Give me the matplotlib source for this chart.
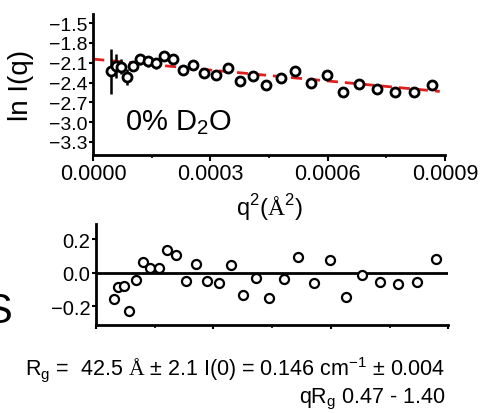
import matplotlib
matplotlib.use('Agg')
import matplotlib.pyplot as plt
from matplotlib.ticker import MultipleLocator

plt.rcParams['font.family'] = ['Liberation Sans', 'DejaVu Sans']
plt.rcParams['mathtext.fontset'] = 'custom'
plt.rcParams['mathtext.rm'] = 'Liberation Serif'

# Guinier data
q2 = [0.0000452, 0.0000572, 0.0000708, 0.0000853, 0.0001024, 0.0001194, 0.0001390,
      0.0001595, 0.0001808, 0.0002039, 0.0002295, 0.0002560, 0.0002841, 0.0003131,
      0.0003438, 0.0003754, 0.0004095, 0.0004419, 0.0004794, 0.0005161, 0.0005562,
      0.0005971, 0.0006381, 0.0006808, 0.0007252, 0.0007721, 0.0008207, 0.0008684]
ln_i = [-2.23, -2.15, -2.16, -2.32, -2.15, -2.05, -2.08, -2.11, -2.00, -2.05,
        -2.21, -2.13, -2.25, -2.28, -2.18, -2.37, -2.30, -2.44, -2.33, -2.23,
        -2.40, -2.29, -2.54, -2.42, -2.50, -2.54, -2.55, -2.44]
err = [0.34, 0.18, 0.11, 0.12, 0.08, 0.08, 0.08, 0.08, 0.07, 0.07,
       0.07, 0.07, 0.07, 0.07, 0.07, 0.07, 0.07, 0.07, 0.07, 0.07,
       0.07, 0.07, 0.07, 0.07, 0.07, 0.07, 0.07, 0.07]
resid = [-0.157, -0.082, -0.078, -0.227, -0.044, 0.064, 0.028, 0.028, 0.135, 0.107,
         -0.046, 0.052, -0.046, -0.060, 0.044, -0.131, -0.032, -0.151, -0.036, 0.094,
         -0.060, 0.078, -0.145, -0.012, -0.056, -0.066, -0.052, 0.082]

# fitted line ends
fit_x = [0.0, 0.000887]
fit_y = [-2.045, -2.535]

fig = plt.figure(figsize=(4.83, 4.14), dpi=100)

ax = fig.add_axes([0.193, 0.623, 0.728, 0.341])
ax.plot(fit_x, fit_y, color='#e02020', lw=2, ls=(0, (4, 2.5)), zorder=1)
ax.errorbar(q2, ln_i, yerr=err, fmt='o', ms=6.5, mfc='white', mec='black', mew=2,
            ecolor='black', elinewidth=1.8, capsize=0, zorder=3)
ax.set_xlim(0, 0.0009)
ax.set_ylim(-3.5, -1.36)
ax.set_xticks([0, 0.0003, 0.0006, 0.0009])
ax.set_xticklabels(['0.0000', '0.0003', '0.0006', '0.0009'])
ax.xaxis.set_minor_locator(MultipleLocator(0.00015))
ax.set_yticks([-1.5, -1.8, -2.1, -2.4, -2.7, -3.0, -3.3])
ax.set_yticklabels(['\u22121.5', '\u22121.8', '\u22122.1', '\u22122.4', '\u22122.7', '\u22123.0', '\u22123.3'])
ax.tick_params(axis='x', labelsize=15.5, length=4, width=1.5, pad=2)
ax.tick_params(axis='x', which='minor', length=2.5, width=1.2)
ax.tick_params(axis='y', labelsize=14, length=3, width=1.5, pad=1)
for s in ['top', 'right']:
    ax.spines[s].set_visible(False)
for s in ['left', 'bottom']:
    ax.spines[s].set_linewidth(2)
ax.set_ylabel('ln I(q)', fontsize=20, labelpad=11)
ax.set_xlabel('q$^\\mathregular{2}$($\\mathrm{\\AA}^\\mathregular{2}$)', fontsize=17, labelpad=5)
ax.text(0.09, 0.18, '0% D$_\\mathregular{2}$O', transform=ax.transAxes, fontsize=21)

# residuals
ax2 = fig.add_axes([0.199, 0.2126, 0.729, 0.244])
ax2.axhline(0, color='black', lw=2, zorder=1)
ax2.plot(q2, resid, 'o', ms=6.5, mfc='white', mec='black', mew=1.6, zorder=3)
ax2.set_xlim(0, 0.0009)
ax2.set_ylim(-0.31, 0.29)
ax2.set_xticks([0, 0.0003, 0.0006, 0.0009])
ax2.set_xticklabels([])
ax2.xaxis.set_minor_locator(MultipleLocator(0.00015))
ax2.set_yticks([-0.2, 0.0, 0.2])
ax2.set_yticklabels(['\u22120.2', '0.0', '0.2'])
ax2.tick_params(axis='x', length=3, width=1.5)
ax2.tick_params(axis='x', which='minor', length=2, width=1.2)
ax2.tick_params(axis='y', labelsize=14.5, length=3, width=1.5, pad=1)
for s in ['top', 'right']:
    ax2.spines[s].set_visible(False)
for s in ['left', 'bottom']:
    ax2.spines[s].set_linewidth(2)

# cropped letter from neighbouring panel
fig.text(-0.033, 0.22, 'S', fontsize=30)

fig.text(0.922, 0.094, 'R$_\\mathregular{g}$ =  42.5 $\\mathrm{\\AA}$ \u00b1 2.1 I(0) = 0.146 cm$^\\mathregular{-1}$ \u00b1 0.004',
         ha='right', fontsize=15.5)
fig.text(0.922, 0.026, 'qR$_\\mathregular{g}$ 0.47 - 1.40', ha='right', fontsize=15.5)

fig.savefig('out.png', dpi=100)
